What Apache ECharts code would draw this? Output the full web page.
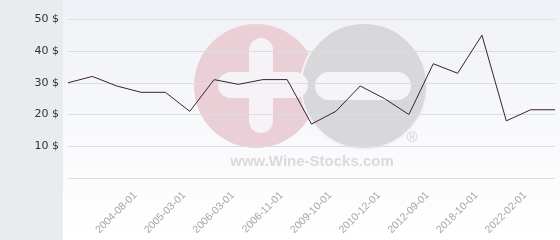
<!DOCTYPE html>
<html>
<head>
<meta charset="utf-8">
<script src="https://cdn.jsdelivr.net/npm/echarts@6/dist/echarts.min.js"></script>
<style>html,body{margin:0;padding:0;background:#fff}#c{width:560px;height:240px}</style>
</head>
<body>
<div id="c"></div>
<script>
var categories = ['', '', '', '2004-08-01', '', '2005-03-01', '', '2006-03-01', '', '2006-11-01', '', '2009-10-01', '', '2010-12-01', '', '2012-09-01', '', '2018-10-01', '', '2022-02-01', ''];
var prices = [30, 32, 29, 27, 27, 21, 31, 29.5, 31, 31, 17, 21, 29, 25, 20, 36, 33, 45, 18, 21.5, 21.5];
var yTicks = { min: 0, max: 50, interval: 10, suffix: ' $' };

var chart = echarts.init(document.getElementById('c'), null, { renderer: 'canvas' });
chart.setOption({
  animation: false,
  grid: { left: 68, right: 5, top: 19.3, bottom: 62 },
  graphic: [
    { type: 'rect', z: -20, silent: true, shape: { x: 0, y: 0, width: 63, height: 240 }, style: { fill: '#e8ecef' } },
    { type: 'rect', z: -20, silent: true, shape: { x: 63, y: 0, width: 497, height: 240 },
      style: { fill: new echarts.graphic.LinearGradient(0, 0, 0, 1, [{ offset: 0, color: '#eff1f6' }, { offset: 0.75, color: '#fcfcfd' }, { offset: 1, color: '#ffffff' }]) } },
    { type: 'circle', z: -10, silent: true, shape: { cx: 256, cy: 86, r: 62 }, style: { fill: '#eacfd6' } },
    { type: 'circle', z: -9, silent: true, shape: { cx: 364, cy: 86, r: 63 }, style: { fill: '#d8d8db', stroke: '#f3f3f6', lineWidth: 2 } },
    { type: 'rect', z: -8, silent: true, shape: { x: 249, y: 38, width: 24, height: 95, r: 12 }, style: { fill: '#f5f3f6' } },
    { type: 'rect', z: -8, silent: true, shape: { x: 218, y: 72, width: 90, height: 26, r: 13 }, style: { fill: '#f5f3f6' } },
    { type: 'rect', z: -8, silent: true, shape: { x: 315, y: 72, width: 96, height: 28, r: 14 }, style: { fill: '#f5f5f7' } },
    { type: 'text', z: -8, silent: true, style: { x: 312, y: 162, text: 'www.Wine-Stocks.com', fill: '#dadadc', font: 'bold 15px "Liberation Sans"', align: 'center', verticalAlign: 'middle' } },
    { type: 'text', z: -8, silent: true, style: { x: 412, y: 138, text: '®', fill: '#d2d2d5', font: '15px "Liberation Sans"', align: 'center', verticalAlign: 'middle' } }
  ],
  xAxis: {
    type: 'category',
    data: categories,
    boundaryGap: false,
    axisLine: { show: false },
    axisTick: { show: false },
    axisLabel: { interval: 0, rotate: 45, margin: 10, padding: [0, 8, 0, 0], color: '#a6a6a6', fontSize: 10.5, fontFamily: 'Liberation Sans' },
    splitLine: { show: false }
  },
  yAxis: {
    type: 'value',
    min: yTicks.min, max: yTicks.max, interval: yTicks.interval,
    axisLine: { show: false },
    axisTick: { show: false },
    axisLabel: { showMinLabel: false, margin: 9, color: '#333', fontSize: 11, fontFamily: 'DejaVu Sans', formatter: function (v) { return v + yTicks.suffix; } },
    splitLine: { lineStyle: { color: '#dcdde3', width: 1 } }
  },
  series: [{
    type: 'line',
    data: prices,
    symbol: 'none',
    lineStyle: { color: '#3b2030', width: 1 },
    z: 5
  }]
});
</script>
</body>
</html>
